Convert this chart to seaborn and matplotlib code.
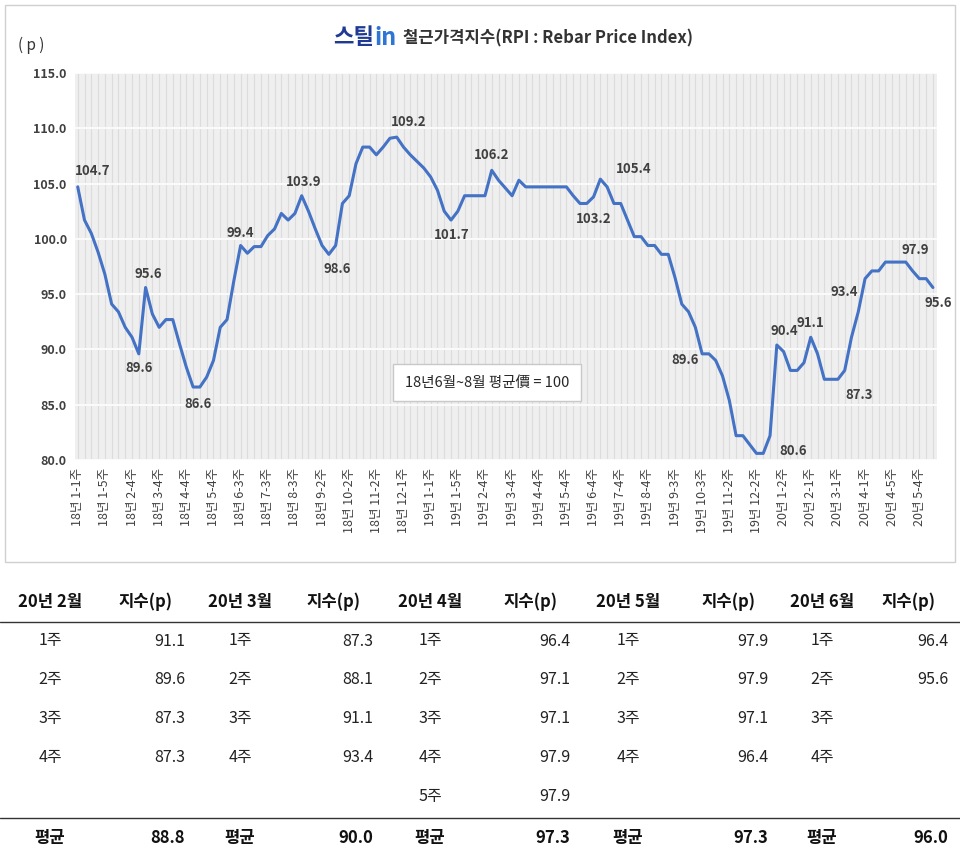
import numpy as np
import pandas as pd
import matplotlib
matplotlib.use('Agg')
import matplotlib.pyplot as plt
import seaborn as sns

sns.set_style('white')
plt.rcParams['font.family'] = ['Noto Sans CJK KR', 'DejaVu Sans']

# weekly rebar price index, 2018-1-1 week .. 2020-6-2 week
rpi = [104.7, 101.7, 100.5, 98.8, 96.8, 94.1, 93.4, 92.0, 91.1, 89.6,
       95.6, 93.2, 92.0, 92.7, 92.7, 90.5, 88.4, 86.6, 86.6, 87.5,
       89.0, 92.0, 92.7, 96.2, 99.4, 98.7, 99.3, 99.3, 100.3, 100.9,
       102.3, 101.7, 102.3, 103.9, 102.5, 100.9, 99.4, 98.6, 99.4, 103.2,
       103.9, 106.8, 108.3, 108.3, 107.6, 108.3, 109.1, 109.2, 108.3, 107.6,
       107.0, 106.4, 105.6, 104.4, 102.5, 101.7, 102.5, 103.9, 103.9, 103.9,
       103.9, 106.2, 105.3, 104.6, 103.9, 105.3, 104.7, 104.7, 104.7, 104.7,
       104.7, 104.7, 104.7, 103.9, 103.2, 103.2, 103.8, 105.4, 104.7, 103.2,
       103.2, 101.7, 100.2, 100.2, 99.4, 99.4, 98.6, 98.6, 96.5, 94.1,
       93.4, 92.0, 89.6, 89.6, 89.0, 87.6, 85.4, 82.2, 82.2, 81.4,
       80.6, 80.6, 82.2, 90.4, 89.8, 88.1, 88.1, 88.8, 91.1, 89.6,
       87.3, 87.3, 87.3, 88.1, 91.1, 93.4, 96.4, 97.1, 97.1, 97.9,
       97.9, 97.9, 97.9, 97.1, 96.4, 96.4, 95.6]

tick_labels = ['18년 1-1주', '18년 1-5주', '18년 2-4주', '18년 3-4주', '18년 4-4주',
               '18년 5-4주', '18년 6-3주', '18년 7-3주', '18년 8-3주', '18년 9-2주',
               '18년 10-2주', '18년 11-2주', '18년 12-1주', '19년 1-1주', '19년 1-5주',
               '19년 2-4주', '19년 3-4주', '19년 4-4주', '19년 5-4주', '19년 6-4주',
               '19년 7-4주', '19년 8-4주', '19년 9-3주', '19년 10-3주', '19년 11-2주',
               '19년 12-2주', '20년 1-2주', '20년 2-1주', '20년 3-1주', '20년 4-1주',
               '20년 4-5주', '20년 5-4주']

# labelled points: index, dx, dy (pixels, up is positive)
labelled = [(0, 15, 16), (9, 0, -14), (10, 3, 14), (17, 5, -17), (24, 0, 12),
            (33, 2, 14), (37, 8, -15), (47, 12, 15), (55, 1, -15), (61, 0, 15),
            (74, 14, -16), (77, 33, 10), (92, -17, -6), (101, 30, 2),
            (103, 7, 14), (108, 0, 14), (111, 28, -16), (115, -14, 20),
            (121, 16, 12), (126, 5, -15)]

months = ['20년 2월', '20년 3월', '20년 4월', '20년 5월', '20년 6월']
weeks = ['1주', '2주', '3주', '4주', '5주']
month_vals = [[91.1, 89.6, 87.3, 87.3],
              [87.3, 88.1, 91.1, 93.4],
              [96.4, 97.1, 97.1, 97.9, 97.9],
              [97.9, 97.9, 97.1, 96.4],
              [96.4, 95.6]]
month_week_rows = [4, 4, 5, 4, 4]
month_avg = [88.8, 90.0, 97.3, 97.3, 96.0]

df = pd.DataFrame({'i': np.arange(len(rpi)), 'rpi': rpi})

fig = plt.figure(figsize=(9.6, 8.61), dpi=100)
fig.patches.append(plt.Rectangle((5 / 960, 1 - 562 / 861), 950 / 960, 557 / 861,
                                 transform=fig.transFigure, fill=False,
                                 edgecolor='#d0d0d0', lw=1))

ax = fig.add_axes([75 / 960, 1 - 460 / 861, 862 / 960, 387 / 861])
ax.set_facecolor('#efefef')
for i in range(len(rpi)):
    ax.axvline(i, color='#dcdcdc', lw=0.8, zorder=0)
for v in np.arange(80, 116, 5):
    ax.axhline(v, color='#fafafa', lw=1.5, zorder=0)
sns.lineplot(data=df, x='i', y='rpi', ax=ax, color='#4472c4', lw=2.2, zorder=3)
ax.set_xlim(-0.4, len(rpi) - 0.4)
ax.set_ylim(80, 115)
ax.set_yticks(np.arange(80, 116, 5))
ax.set_yticklabels([f'{v:.1f}' for v in np.arange(80, 116, 5)], fontsize=9,
                   fontweight='bold', color='#404040')
ax.set_xticks(np.arange(0, len(rpi), 4)[:len(tick_labels)])
ax.set_xticklabels(tick_labels, rotation=90, fontsize=9, color='#404040')
ax.tick_params(length=0, pad=6)
ax.set_xlabel('')
ax.set_ylabel('')
for s in ax.spines.values():
    s.set_visible(False)

for idx, dx, dy in labelled:
    ax.annotate(f'{rpi[idx]:.1f}', (idx, rpi[idx]), xytext=(dx, dy),
                textcoords='offset pixels', ha='center', va='center',
                fontsize=9.5, fontweight='bold', color='#404040', zorder=5)

ax.text(0.478, 0.2, '18년6월~8월 평균價 = 100', transform=ax.transAxes,
        fontsize=10.5, va='center', ha='center', zorder=6,
        bbox=dict(boxstyle='square,pad=0.8', fc='white', ec='#c8c8c8'))

fig.text(18 / 960, 1 - 45 / 861, '( p )', fontsize=11, va='center', color='#333333')
fig.text(333 / 960, 1 - 38 / 861, '스틸', fontsize=16, fontweight='bold',
         color='#1f3a93', va='center')
fig.text(374 / 960, 1 - 38 / 861, 'in', fontsize=17, fontweight='bold',
         color='#2e75d6', va='center')
fig.text(403 / 960, 1 - 38 / 861, '철근가격지수(RPI : Rebar Price Index)',
         fontsize=12, fontweight='bold', color='#333333', va='center')

# table below the chart
tab = fig.add_axes([0, 0, 1, 1 - 570 / 861])
tab.set_xlim(0, 960)
tab.set_ylim(861 - 570, 0)
tab.axis('off')
name_x = [50, 240, 430, 628, 822]
val_x = [185, 373, 570, 768, 948]
for m in range(5):
    tab.text(name_x[m], 32, months[m], ha='center', va='center', fontsize=12,
             fontweight='bold', color='#111111')
    tab.text(val_x[m] - 40, 32, '지수(p)', ha='center', va='center', fontsize=12,
             fontweight='bold', color='#111111')
    for r in range(month_week_rows[m]):
        y = 71 + r * 38.8
        tab.text(name_x[m], y, weeks[r], ha='center', va='center', fontsize=11.5,
                 color='#222222')
        if r < len(month_vals[m]):
            tab.text(val_x[m], y, f'{month_vals[m][r]:.1f}', ha='right', va='center',
                     fontsize=11.5, color='#222222')
    tab.text(name_x[m], 268, '평균', ha='center', va='center', fontsize=12,
             fontweight='bold', color='#111111')
    tab.text(val_x[m], 268, f'{month_avg[m]:.1f}', ha='right', va='center',
             fontsize=12, fontweight='bold', color='#111111')
tab.axhline(52, color='#333333', lw=1)
tab.axhline(248, color='#333333', lw=1)

fig.savefig('out.png', dpi=100)
